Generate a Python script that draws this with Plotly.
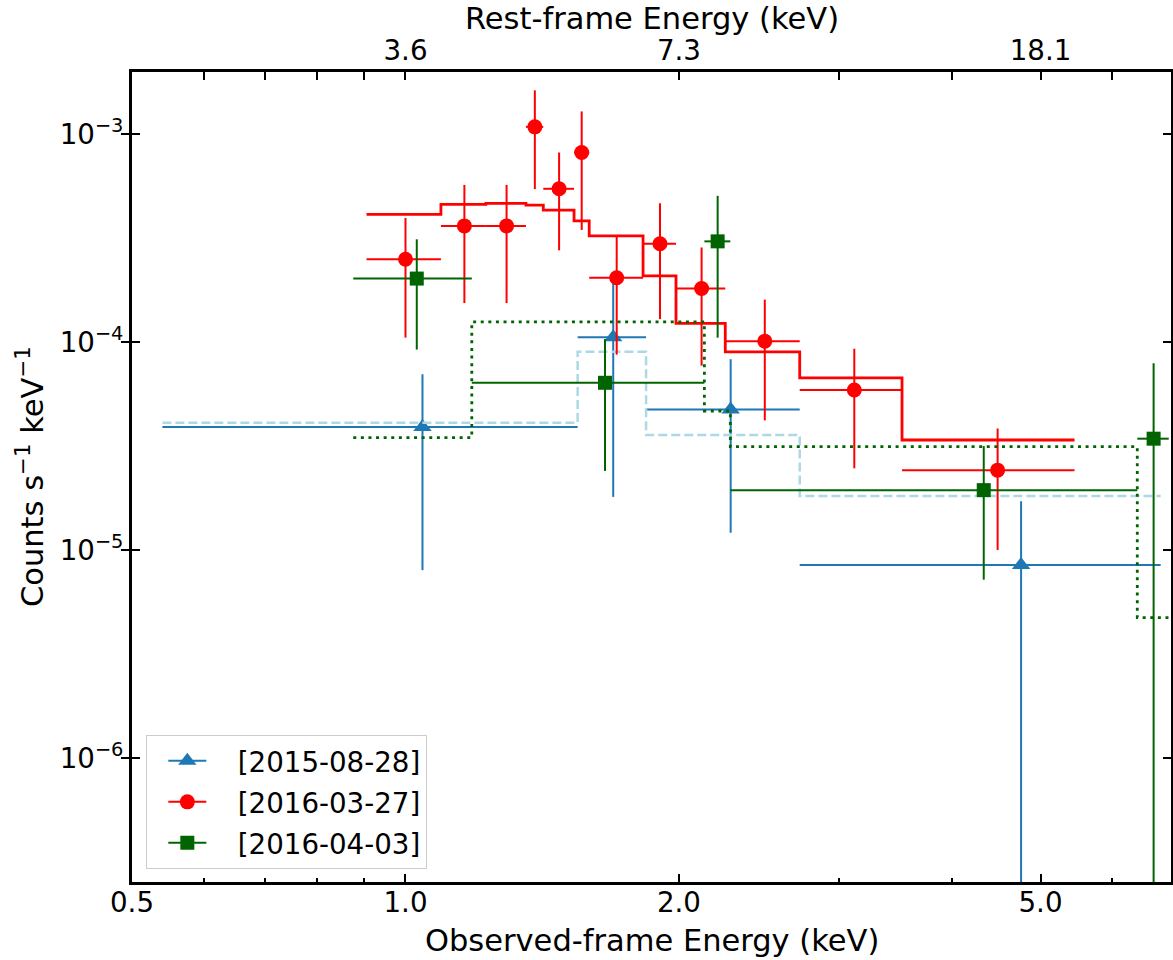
import numpy as np
import plotly.graph_objects as go

# ---------------- data ----------------
blue_label = "[2015-08-28]"
blue_x = [1.044, 1.693, 2.28, 4.76]
blue_y = [3.90e-5, 1.055e-4, 4.74e-5, 8.47e-6]
blue_yerr = [3.1e-5, 8.75e-5, 3.53e-5, 8.7e-6]
blue_edges = [0.54, 1.547, 1.84, 2.716, 6.78]
blue_model = [4.09e-5, 8.97e-5, 3.57e-5, 1.82e-5]

red_label = "[2016-03-27]"
red_x = [1.0, 1.161, 1.292, 1.388, 1.476, 1.563, 1.708, 1.906, 2.118, 2.486, 3.119, 4.485]
red_y = [2.50e-4, 3.62e-4, 3.62e-4, 1.084e-3, 5.46e-4, 8.16e-4, 2.04e-4, 2.97e-4,
         1.81e-4, 1.01e-4, 5.88e-5, 2.42e-5]
red_yerr = [1.45e-4, 2.08e-4, 2.08e-4, 5.4e-4, 2.7e-4, 4.7e-4, 1.17e-4, 1.68e-4,
            1.04e-4, 5.9e-5, 3.41e-5, 1.42e-5]
red_edges = [0.906, 1.094, 1.226, 1.357, 1.418, 1.533, 1.593, 1.826, 1.985, 2.249,
             2.716, 3.52, 5.45]
red_model = [4.11e-4, 4.59e-4, 4.65e-4, 4.56e-4, 4.31e-4, 3.83e-4, 3.24e-4, 2.08e-4,
             1.23e-4, 8.97e-5, 6.73e-5, 3.38e-5]

green_label = "[2016-04-03]"
green_x = [1.029, 1.658, 2.206, 4.33, 6.66]
green_y = [2.02e-4, 6.37e-5, 3.05e-4, 1.94e-5, 3.43e-5]
green_yerr = [1.10e-4, 3.97e-5, 2.0e-4, 1.22e-5, 4.48e-5]
green_edges = [0.876, 1.183, 2.133, 2.278, 6.39, 6.92]
green_model = [3.47e-5, 1.25e-4, 4.66e-5, 3.14e-5, 4.73e-6]

obs_ticks = [0.5, 1.0, 2.0, 5.0]
obs_ticktext = ["0.5", "1.0", "2.0", "5.0"]
minor_ticks = [0.6, 0.7, 0.8, 0.9, 3.0, 4.0, 6.0]
rest_ticks = [1.0, 2.0, 5.0]
rest_ticktext = ["3.6", "7.3", "18.1"]
y_ticks = [1e-6, 1e-5, 1e-4, 1e-3]
y_ticktext = ["10<sup>\u22126</sup>", "10<sup>\u22125</sup>", "10<sup>\u22124</sup>", "10<sup>\u22123</sup>"]

x_range = [0.5, 6.96]
y_range = [2.53e-7, 1.99e-3]

BLUE, RED, GREEN, LBLUE = "#1f77b4", "#ff0000", "#006400", "#add8e6"
FONT = "DejaVu Sans"
SIZES = {"triangle-up": 16, "circle": 15, "square": 14}
PAD = "\u00a0\u00a0\u00a0"


def data_trace(x, y, yerr, edges, color, symbol, name):
    minus = [xi - e for xi, e in zip(x, edges[:-1])]
    plus = [e - xi for xi, e in zip(x, edges[1:])]
    return go.Scatter(
        x=x, y=y, mode="markers", name=name, showlegend=False,
        marker=dict(color=color, symbol=symbol, size=SIZES[symbol], line=dict(width=0)),
        error_x=dict(type="data", array=plus, arrayminus=minus, symmetric=False,
                     color=color, thickness=2, width=0),
        error_y=dict(type="data", array=yerr, symmetric=True,
                     color=color, thickness=2, width=0),
        hoverinfo="skip",
    )


def model_trace(edges, vals, color, dash, width):
    xs = list(edges)
    ys = list(vals) + [vals[-1]]
    return go.Scatter(x=xs, y=ys, mode="lines", line=dict(color=color, dash=dash, width=width, shape="hv"),
                      showlegend=False, hoverinfo="skip")


fig = go.Figure()
fig.add_trace(data_trace(blue_x, blue_y, blue_yerr, blue_edges, BLUE, "triangle-up", blue_label))
fig.add_trace(model_trace(blue_edges, blue_model, LBLUE, "9px,4px", 2.5))
fig.add_trace(data_trace(red_x, red_y, red_yerr, red_edges, RED, "circle", red_label))
fig.add_trace(model_trace(red_edges, red_model, RED, "solid", 2.8))
fig.add_trace(data_trace(green_x, green_y, green_yerr, green_edges, GREEN, "square", green_label))
fig.add_trace(model_trace(green_edges, green_model, GREEN, "3px,4.6px", 2.8))

# legend entries
for lab, col, sym in [(blue_label, BLUE, "triangle-up"), (red_label, RED, "circle"),
                      (green_label, GREEN, "square")]:
    fig.add_trace(go.Scatter(x=[None], y=[None], mode="lines+markers", name=PAD + lab, legendgroup=lab,
                             marker=dict(color=col, symbol=sym, size=SIZES[sym]),
                             line=dict(color=col, width=2)))

# invisible trace to activate the top axis
fig.add_trace(go.Scatter(x=[None], y=[None], xaxis="x2", yaxis="y", showlegend=False, hoverinfo="skip"))

lx = [np.log10(v) for v in x_range]
ly = [np.log10(v) for v in y_range]

axis_common = dict(showline=True, linecolor="black", linewidth=3, showgrid=False, zeroline=False,
                   ticks="inside", ticklen=8, tickwidth=2, tickcolor="black",
                   tickfont=dict(family=FONT, size=27.7, color="black"))

fig.update_layout(
    width=1173, height=960,
    margin=dict(l=132, r=2, t=72, b=78, autoexpand=False),
    plot_bgcolor="white", paper_bgcolor="white",
    font=dict(family=FONT, size=27.7, color="black"),
    xaxis=dict(type="log", range=lx, tickmode="array", tickvals=obs_ticks, ticktext=obs_ticktext,
               ticklabelstandoff=-6,
               minor=dict(ticks="inside", ticklen=4, tickwidth=1.5, tickcolor="black",
                          tickmode="array", tickvals=minor_ticks, showgrid=False),
               **axis_common),
    xaxis2=dict(type="log", range=lx, overlaying="x", side="top", anchor="y",
                tickmode="array", tickvals=rest_ticks, ticktext=rest_ticktext,
                ticklabelstandoff=-2,
                minor=dict(ticks="inside", ticklen=8, tickwidth=2, tickcolor="black",
                           tickmode="array", tickvals=minor_ticks, showgrid=False),
                **axis_common),
    yaxis=dict(type="log", range=ly, tickmode="array", tickvals=y_ticks, ticktext=y_ticktext,
               mirror="allticks", **axis_common),
    legend=dict(x=0.0135, y=0.016, xanchor="left", yanchor="bottom",
                bgcolor="rgba(255,255,255,0.8)", bordercolor="#cccccc", borderwidth=1.3,
                font=dict(family=FONT, size=27.7, color="black"), tracegroupgap=2,
                itemwidth=38, indentation=16),
    showlegend=True,
    annotations=[
        dict(text="Observed-frame Energy (keV)", xref="paper", yref="paper", x=0.5, y=0,
             xanchor="center", yanchor="middle", yshift=-58, showarrow=False,
             font=dict(family=FONT, size=30.5, color="black")),
        dict(text="Rest-frame Energy (keV)", xref="paper", yref="paper", x=0.5, y=1,
             xanchor="center", yanchor="middle", yshift=54, showarrow=False,
             font=dict(family=FONT, size=30.5, color="black")),
        dict(text="Counts s<sup>\u22121</sup> keV<sup>\u22121</sup>", xref="paper", yref="paper",
             x=0, y=0.5, xanchor="center", yanchor="middle", xshift=-102, textangle=-90,
             showarrow=False, font=dict(family=FONT, size=30.5, color="black")),
    ],
)

fig.write_html("out.html")
